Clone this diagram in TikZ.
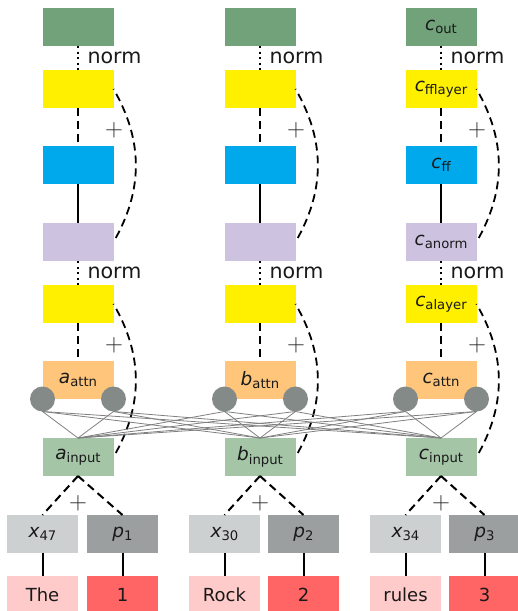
\documentclass[tikz,border=0pt]{standalone}
\usepackage{fontspec}
\setmainfont{DejaVu Sans}
\definecolor{cout}{HTML}{71A27A}
\definecolor{cyel}{HTML}{FFF000}
\definecolor{cblue}{HTML}{00A8EC}
\definecolor{clav}{HTML}{CDC3E0}
\definecolor{corange}{HTML}{FEC57B}
\definecolor{ccirc}{HTML}{848A88}
\definecolor{cin}{HTML}{A5C5A7}
\definecolor{ctok}{HTML}{CDD0D1}
\definecolor{cpos}{HTML}{9C9F9F}
\definecolor{cword}{HTML}{FFCACA}
\definecolor{cnum}{HTML}{FF6565}
\newcommand{\lab}[2]{{\fontsize{18.5}{20}\selectfont\itshape #1}\raisebox{-3.5pt}{\fontsize{13.2}{15}\selectfont #2}}
\newcommand{\clab}[2]{\ifnum\showlab=1 \lab{#1}{#2}\fi}
\tikzset{
  box/.style={minimum width=71pt, minimum height=38pt, inner sep=0pt, outer sep=0pt, font=\fontsize{18}{20}\selectfont, text=black!90},
  wbox/.style={box, minimum height=38pt},
  dotline/.style={line width=2pt, dash pattern=on 2pt off 3.5pt},
  dashline/.style={line width=2pt, dash pattern=on 8pt off 5pt},
  dashcurve/.style={line width=1.8pt, dash pattern=on 8pt off 5pt, dash phase=7.4pt},
  solidline/.style={line width=2pt},
  attline/.style={line width=0.8pt, draw=black!50},
  circ/.style={circle, fill=ccirc, minimum size=25pt, inner sep=0pt, outer sep=0pt},
  normlab/.style={anchor=west, inner sep=0pt, font=\fontsize{20.6}{22}\selectfont, text=black!90},
  pluslab/.style={inner sep=0pt, font=\fontsize{27}{29}\selectfont, text=black!85}
}
\begin{document}
\begin{tikzpicture}[x=1pt,y=-1pt]
\useasboundingbox (0,0) rectangle (518,611);
\clip (0,0) rectangle (518,611);
\foreach \c/\x/\L/\showlab in {a/78/a/0, b/260/b/0, c/441/c/1}{
  \node[box, fill=cout] (\c out) at (\x,27) {\clab{c}{out}};
  \node[box, fill=cyel] (\c fl) at (\x,89) {\clab{c}{fflayer}};
  \node[box, fill=cblue] (\c ff) at (\x,165) {\clab{c}{ff}};
  \node[box, fill=clav] (\c an) at (\x,242) {\clab{c}{anorm}};
  \node[box, fill=cyel] (\c al) at (\x,304) {\clab{c}{alayer}};
  \node[box, fill=corange] (\c at) at (\x,380) {\lab{\L}{attn}};
  \node[box, fill=cin] (\c in) at (\x,457) {\lab{\L}{input}};
  \draw[dotline] (\c out.south) -- node[normlab, xshift=8.5pt]{norm} (\c fl.north);
  \draw[dashline] (\c fl.south) -- node[pluslab, xshift=36pt, yshift=-3pt]{$+$} (\c ff.north);
  \draw[solidline] (\c ff.south) -- (\c an.north);
  \draw[dotline] (\c an.south) -- node[normlab, xshift=8.5pt]{norm} (\c al.north);
  \draw[dashline] (\c al.south) -- node[pluslab, xshift=36pt, yshift=-3pt]{$+$} (\c at.north);
  \draw[dashcurve] (\c fl.east) to[bend left=30] (\c an.east);
  \draw[dashcurve] (\c al.east) to[bend left=30] (\c in.east);
  \node[circ] (\c L) at (\c at.south west) {};
  \node[circ] (\c R) at (\c at.south east) {};
  \node[pluslab] at (\x,503.5) {$+$};
}
\foreach \s in {aL,aR,bL,bR,cL,cR}{
  \foreach \t in {ain,bin,cin}{
    \draw[attline] (\s.south) -- (\t.north);
  }
}
% tokens
\node[box, fill=ctok] (ax) at (42.5,534) {\lab{x}{47}};
\node[box, fill=cpos] (ap) at (122.5,534) {\lab{p}{1}};
\node[box, fill=ctok] (bx) at (224.5,534) {\lab{x}{30}};
\node[box, fill=cpos] (bp) at (303.5,534) {\lab{p}{2}};
\node[box, fill=ctok] (cx) at (405.5,534) {\lab{x}{34}};
\node[box, fill=cpos] (cp) at (484.5,534) {\lab{p}{3}};
\node[wbox, fill=cword] (aw) at (42.5,595) {The};
\node[wbox, fill=cnum] (an1) at (122.5,595) {1};
\node[wbox, fill=cword] (bw) at (224.5,595) {Rock};
\node[wbox, fill=cnum] (bn2) at (303.5,595) {2};
\node[wbox, fill=cword] (cw) at (405.5,595) {rules};
\node[wbox, fill=cnum] (cn3) at (484.5,595) {3};
\foreach \c in {a,b,c}{
  \draw[dashline] (\c in.south) -- (\c x.north);
  \draw[dashline] (\c in.south) -- (\c p.north);
  \draw[solidline] (\c x.south) -- (\c w.north);
}
\draw[solidline] (ap.south) -- (an1.north);
\draw[solidline] (bp.south) -- (bn2.north);
\draw[solidline] (cp.south) -- (cn3.north);
\end{tikzpicture}
\end{document}
